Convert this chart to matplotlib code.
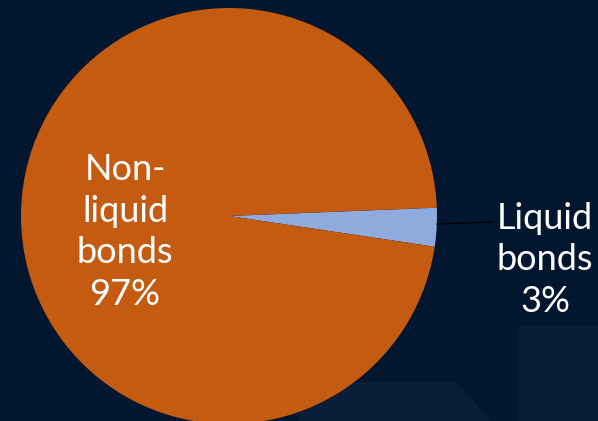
import matplotlib.pyplot as plt
from matplotlib.patches import Polygon, Rectangle

categories = ["Liquid\nbonds", "Non-\nliquid\nbonds"]
shares = [3, 97]
colors = ["#8FAADC", "#C55A11"]

BG = "#021630"
W, H = 598, 421

plt.rcParams["font.family"] = ["Lato", "DejaVu Sans"]

fig = plt.figure(figsize=(W / 100, H / 100), dpi=100, facecolor=BG)
ax = fig.add_axes([0, 0, 1, 1])
ax.set_facecolor(BG)

# faint background shapes, lower right
ax.add_patch(Rectangle((518, 0), 80, 95, color="#081b35", zorder=0))
ax.add_patch(Polygon([(300, 0), (300, 38), (457, 38), (490, 0)],
                     closed=True, color="#0b1e38", zorder=0))

wedges, _ = ax.pie(shares, colors=colors, startangle=-8.5, counterclock=True,
                   center=(229, 205), radius=208,
                   wedgeprops=dict(linewidth=0))

# labels
ax.text(125, 189, f"{categories[1]}\n{shares[1]}%", ha="center", va="center",
        color="white", fontsize=26, linespacing=1.33)
ax.text(545, 161, f"{categories[0]}\n{shares[0]}%", ha="center", va="center",
        color="white", fontsize=26, linespacing=1.33)
ax.plot([437, 492], [197, 199], color="#000000", lw=1)

ax.set_xlim(0, W)
ax.set_ylim(0, H)
ax.set_aspect("auto")
ax.axis("off")

fig.savefig("out.png", dpi=100, facecolor=BG)
